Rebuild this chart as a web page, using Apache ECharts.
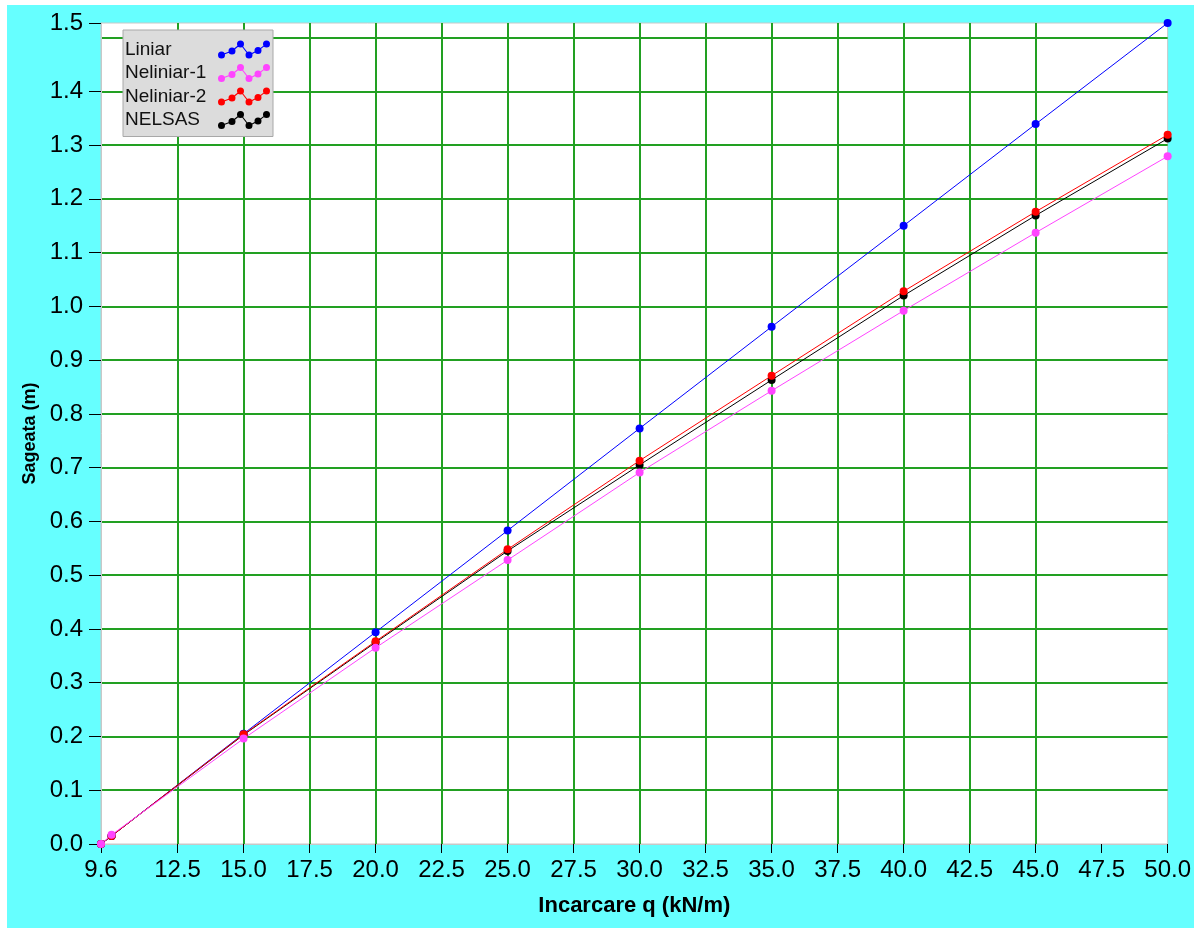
<!DOCTYPE html>
<html>
<head>
<meta charset="utf-8">
<title>Sageata vs Incarcare</title>
<script src="https://cdn.jsdelivr.net/npm/echarts@6/dist/echarts.min.js"></script>
<style>
  html, body { margin: 0; padding: 0; background: #ffffff; width: 1204px; height: 928px; overflow: hidden; }
  #chart { position: absolute; left: 7px; top: 5px; width: 1187px; height: 923px; }
</style>
</head>
<body>
<div id="chart"></div>
<script>
// Load q (kN/m) at which each deflection was computed
const loads = [9.6, 10, 15, 20, 25, 30, 35, 40, 45, 50];

// Deflection (m) for each method
const liniar    = [0, 0.015, 0.205, 0.394, 0.583, 0.773, 0.962, 1.150, 1.339, 1.527];
const neliniar1 = [0, 0.017, 0.196, 0.365, 0.528, 0.691, 0.843, 0.992, 1.137, 1.279];
const neliniar2 = [0, 0.015, 0.204, 0.377, 0.548, 0.713, 0.871, 1.028, 1.176, 1.319];
const nelsas    = [0, 0.015, 0.203, 0.375, 0.545, 0.705, 0.863, 1.020, 1.169, 1.312];

// Axis extents and labelled ticks
const xMin = 9.6;
const xMax = 50;
const xLabelValues = [9.6, 12.5, 15, 17.5, 20, 22.5, 25, 27.5, 30, 32.5, 35, 37.5, 40, 42.5, 45, 47.5, 50];
const xGridValues  = [10, 12.5, 15, 17.5, 20, 22.5, 25, 27.5, 30, 32.5, 35, 37.5, 40, 42.5, 45, 47.5];
const yMin = 0;
const yMax = Math.max(...liniar);
const yLabelValues = [0, 0.1, 0.2, 0.3, 0.4, 0.5, 0.6, 0.7, 0.8, 0.9, 1.0, 1.1, 1.2, 1.3, 1.4, yMax];

const FONT = '"Liberation Sans", Arial, sans-serif';
const GRID_GREEN = '#22a022';

// Legend glyph: a small zigzag of dots joined by thin segments
function zigzagIcon() {
  const pts = [[3.5, 14.5], [14, 10.5], [22.5, 3.5], [31, 14.5], [40, 10], [48.5, 3.5]];
  const r = 3.5, t = 1.1;
  let d = '';
  for (let i = 0; i < pts.length - 1; i++) {
    const [x1, y1] = pts[i], [x2, y2] = pts[i + 1];
    const dx = x2 - x1, dy = y2 - y1, len = Math.hypot(dx, dy);
    const ux = dx / len, uy = dy / len;
    const ax = x1 + ux * r, ay = y1 + uy * r, bx = x2 - ux * r, by = y2 - uy * r;
    const nx = -uy * t / 2, ny = ux * t / 2;
    d += `M${ax + nx},${ay + ny}L${bx + nx},${by + ny}L${bx - nx},${by - ny}L${ax - nx},${ay - ny}Z`;
  }
  pts.forEach(([x, y]) => {
    d += `M${x - r},${y}a${r},${r} 0 1,0 ${2 * r},0a${r},${r} 0 1,0 ${-2 * r},0Z`;
  });
  return 'path://' + d;
}

function pairs(ys) {
  return loads.map((q, i) => [q, ys[i]]);
}

function makeSeries(name, color, ys) {
  return {
    name: name,
    type: 'line',
    xAxisIndex: 0,
    yAxisIndex: 0,
    data: pairs(ys),
    symbol: 'circle',
    symbolSize: 8,
    showSymbol: true,
    clip: true,
    animation: false,
    lineStyle: { color: color, width: 1 },
    itemStyle: { color: color, borderWidth: 0 },
    emphasis: { disabled: true }
  };
}

const chart = echarts.init(document.getElementById('chart'), null, { renderer: 'canvas' });

chart.setOption({
  backgroundColor: '#66ffff',
  animation: false,
  grid: {
    left: 94,
    right: 23,
    top: 18,
    bottom: 84,
    show: true,
    backgroundColor: '#ffffff',
    borderColor: '#c8c8c8',
    borderWidth: 1
  },
  legend: {
    data: ['Liniar', 'Neliniar-1', 'Neliniar-2', 'NELSAS'],
    orient: 'vertical',
    left: 116,
    top: 25,
    align: 'right',
    icon: zigzagIcon(),
    itemWidth: 52,
    itemHeight: 18,
    itemGap: 4.5,
    padding: [10, 3, 7, 2],
    backgroundColor: '#dcdcdc',
    borderColor: '#a8a8a8',
    borderWidth: 1,
    selectedMode: false,
    itemStyle: { borderWidth: 0 },
    formatter: name => '{t|' + name + '}',
    textStyle: {
      rich: {
        t: { width: 88, align: 'left', fontSize: 19, lineHeight: 18, fontFamily: FONT, color: '#111111' }
      }
    }
  },
  xAxis: [
    {
      type: 'value',
      min: xMin,
      max: xMax,
      position: 'bottom',
      name: 'Incarcare q (kN/m)',
      nameLocation: 'middle',
      nameGap: 51,
      nameTextStyle: { fontSize: 22, fontWeight: 'bold', fontFamily: FONT, color: '#000' },
      axisLine: { show: true, lineStyle: { color: '#c8c8c8', width: 1 } },
      axisTick: { show: true, length: 9, customValues: xLabelValues, lineStyle: { color: '#000', width: 1 } },
      axisLabel: {
        customValues: xLabelValues,
        formatter: v => v.toFixed(1),
        margin: 14,
        fontSize: 24,
        fontFamily: FONT,
        color: '#000'
      },
      splitLine: { show: false }
    },
    {
      type: 'value',
      min: xMin,
      max: xMax,
      position: 'bottom',
      axisLine: { show: false },
      axisTick: { show: false, customValues: xGridValues },
      axisLabel: { show: false },
      splitLine: { show: true, showMinLine: false, showMaxLine: false, lineStyle: { color: GRID_GREEN, width: 2 } }
    }
  ],
  yAxis: [
    {
      type: 'value',
      min: yMin,
      max: yMax,
      position: 'left',
      name: 'Sageata (m)',
      nameLocation: 'middle',
      nameGap: 58,
      nameRotate: 90,
      nameTextStyle: { fontSize: 18, fontWeight: 'bold', fontFamily: FONT, color: '#000' },
      axisLine: { show: true, lineStyle: { color: '#c8c8c8', width: 1 } },
      axisTick: { show: true, length: 12, customValues: yLabelValues, lineStyle: { color: '#000', width: 1 } },
      axisLabel: {
        customValues: yLabelValues,
        formatter: v => v.toFixed(1),
        margin: 18,
        fontSize: 24,
        fontFamily: FONT,
        color: '#000'
      },
      splitLine: { show: false }
    },
    {
      type: 'value',
      min: yMin,
      max: yMax,
      interval: 0.1,
      position: 'left',
      axisLine: { show: false },
      axisTick: { show: false },
      axisLabel: { show: false },
      splitLine: { show: true, showMinLine: false, showMaxLine: false, lineStyle: { color: GRID_GREEN, width: 2 } }
    }
  ],
  // drawn bottom to top: blue, black, red, magenta
  series: [
    makeSeries('Liniar', '#0000ff', liniar),
    makeSeries('NELSAS', '#000000', nelsas),
    makeSeries('Neliniar-2', '#ff0000', neliniar2),
    makeSeries('Neliniar-1', '#ff44ff', neliniar1)
  ]
});
</script>
</body>
</html>
